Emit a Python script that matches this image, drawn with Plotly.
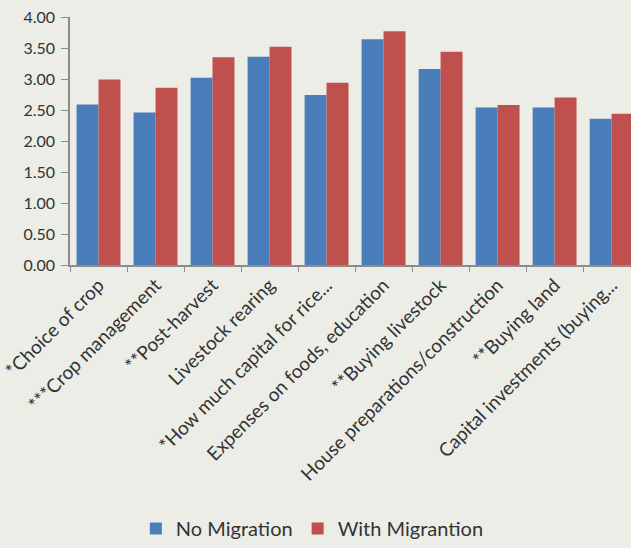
import plotly.graph_objects as go

categories = [
    "*Choice of crop",
    "***Crop management",
    "**Post-harvest",
    "Livestock rearing",
    "*How much capital for rice...",
    "Expenses on foods, education",
    "**Buying livestock",
    "House preparations/construction",
    "**Buying land",
    "Capital investments (buying...",
]
no_migration = [2.59, 2.46, 3.02, 3.36, 2.74, 3.64, 3.16, 2.54, 2.54, 2.36]
with_migration = [2.99, 2.86, 3.35, 3.52, 2.94, 3.77, 3.44, 2.58, 2.70, 2.44]
y_ticks = [0, 0.5, 1, 1.5, 2, 2.5, 3, 3.5, 4]

BG = "#ECEDE7"
AXIS = "#8C8C8C"
TEXT = "#333333"
FONT = "Lato, Open Sans, sans-serif"

fig = go.Figure()
fig.add_trace(go.Bar(x=categories, y=no_migration, name="No Migration",
                     marker=dict(color="#4A7EBB", line=dict(width=0))))
fig.add_trace(go.Bar(x=categories, y=with_migration, name="With Migrantion",
                     marker=dict(color="#C0504D", line=dict(width=0))))

fig.update_layout(
    width=631, height=548,
    margin=dict(l=70, r=0, t=17, b=283),
    paper_bgcolor=BG, plot_bgcolor=BG,
    barmode="group", bargap=0.23, bargroupgap=0,
    font=dict(family=FONT, color=TEXT),
    showlegend=True,
    legend=dict(orientation="h", xref="container", yref="container",
                x=0.495, xanchor="center", y=-0.012, yanchor="bottom",
                font=dict(size=20, color=TEXT), itemwidth=30,
                traceorder="normal"),
)
fig.update_xaxes(
    range=[-0.5, 9.34], showline=True, linecolor=AXIS, linewidth=1.5,
    ticks="outside", tickson="boundaries", ticklen=5, tickcolor=AXIS,
    tickangle=-45, tickfont=dict(size=19, color=TEXT, family=FONT),
    showgrid=False,
)
fig.update_yaxes(
    range=[0, 4], tickvals=y_ticks, tickformat=".2f",
    showline=True, linecolor=AXIS, linewidth=1.5,
    ticks="outside", ticklen=7, tickcolor=AXIS,
    tickfont=dict(size=16, color=TEXT, family=FONT),
    showgrid=False, zeroline=False, ticklabelstandoff=3,
)

fig.write_html("out.html")
